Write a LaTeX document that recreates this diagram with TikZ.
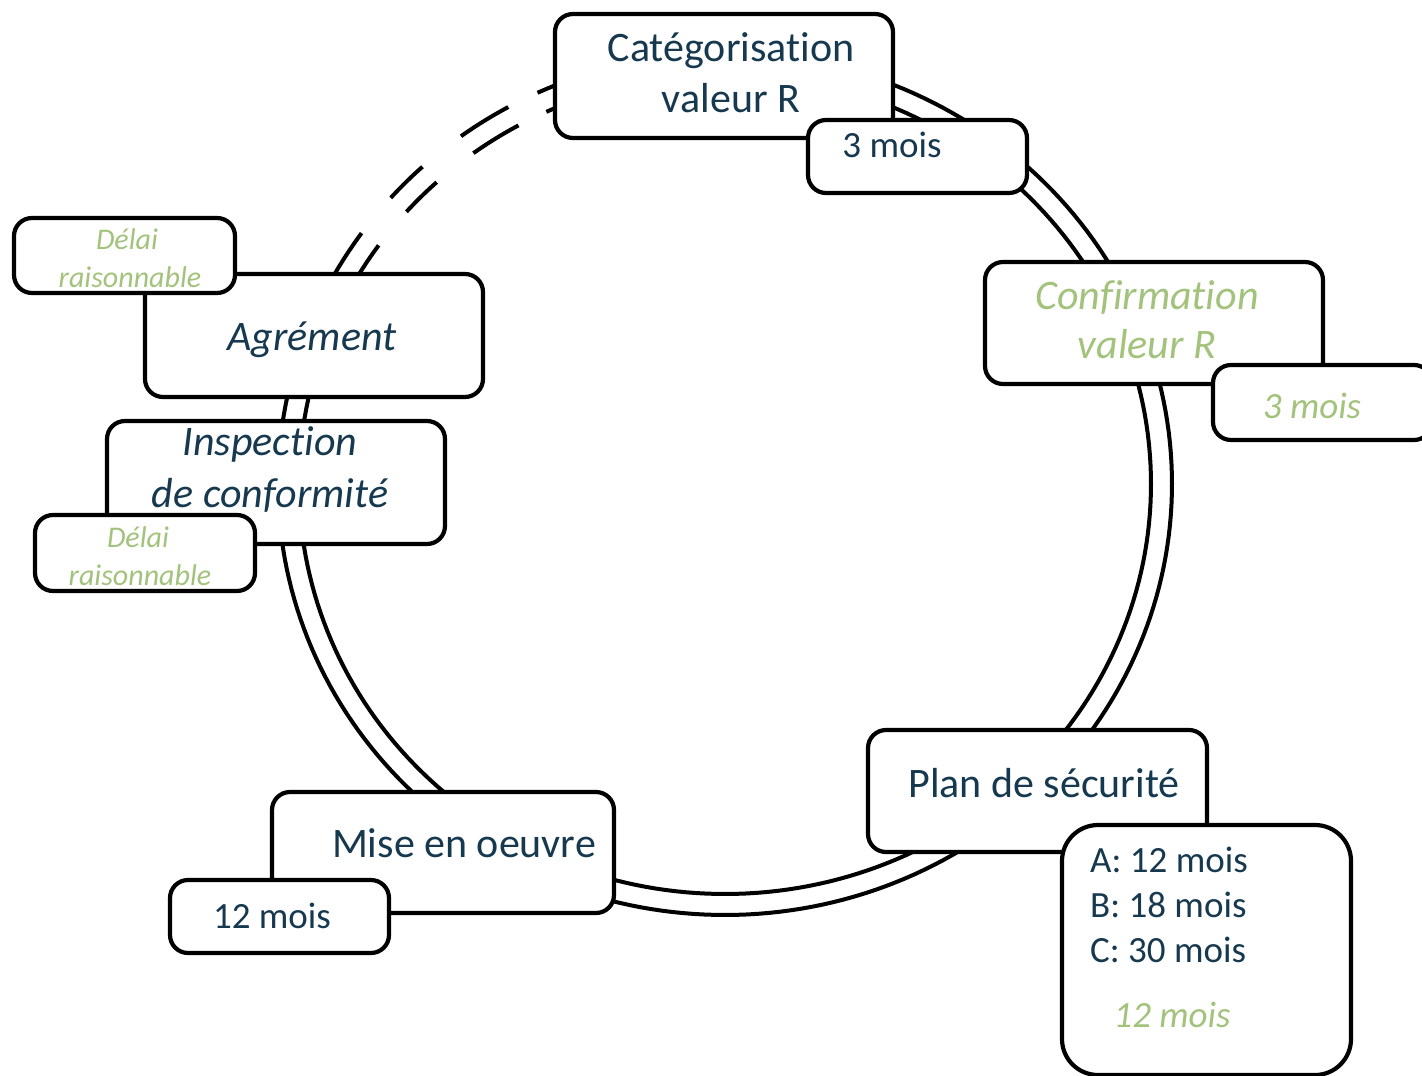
\documentclass[tikz,border=0pt]{standalone}
\usepackage{fontspec}
\setmainfont{Carlito}[RawFeature={-liga}]
\definecolor{navy}{HTML}{17394F}
\definecolor{leaf}{HTML}{A3C37D}
\begin{document}
\begin{tikzpicture}[x=1pt,y=-1pt,
  box/.style={draw=black, fill=white, line width=4.2pt, rounded corners=18pt, inner sep=0pt},
  ringline/.style={draw=black, line width=4pt, line join=round},
  big/.style={font=\fontsize{42}{50}\selectfont, text=navy, inner sep=0pt, anchor=base},
  mid/.style={font=\fontsize{37}{45}\selectfont, text=navy, inner sep=0pt, anchor=base},
  bigit/.style={font=\fontsize{42}{50}\selectfont\itshape, text=navy, inner sep=0pt, anchor=base},
  greenbig/.style={font=\fontsize{42}{50}\selectfont\itshape, text=leaf, inner sep=0pt, anchor=base},
  greenmid/.style={font=\fontsize{37}{45}\selectfont\itshape, text=leaf, inner sep=0pt, anchor=base},
  greensmall/.style={font=\fontsize{30}{36}\selectfont\itshape, text=leaf, inner sep=0pt, anchor=base}
]
\useasboundingbox (0,0) rectangle (1422,1076);
% ring: two lines (outer and inner), with a dashed stretch at upper left
\foreach \a/\b in {144.4/474.8, 132.6/138.4, 119/126.2}{
  \draw[ringline] plot[domain=\a:\b, samples=240] ({725+447*cos(\x)},{484-431*sin(\x)});
  \draw[ringline] plot[domain=\a:\b, samples=240] ({725+426*cos(\x)},{484-410*sin(\x)});
}

% Categorisation
\node[box, minimum width=338pt, minimum height=124pt] (cat) at (724,76) {};
\node[box, minimum width=219pt, minimum height=73pt] (catd) at (917.5,156.5) {};
\node[big] (catA) at (731,61) {Catégorisation};
\node[big] (catB) at (731,112) {valeur R};
\node[mid] (catdT) at (892,157) {3 mois};

% Confirmation
\node[box, minimum width=338pt, minimum height=122pt] (conf) at (1154,323) {};
\node[box, minimum width=219pt, minimum height=75pt] (confd) at (1322.5,402.5) {};
\node[greenbig] (confA) at (1147,309) {Confirmation};
\node[greenbig] (confB) at (1147,358) {valeur R};
\node[greenmid] (confdT) at (1312,418) {3 mois};

% Plan de securite
\node[box, minimum width=339pt, minimum height=122pt] (plan) at (1037.5,791) {};
\node[box, rounded corners=36pt, minimum width=289pt, minimum height=250pt] (pland) at (1206.5,950) {};
\node[big] (planT) at (1044,797) {Plan de sécurité};
\node[mid, anchor=base west] (planA) at (1090,872) {A: 12 mois};
\node[mid, anchor=base west] (planB) at (1090,917) {B: 18 mois};
\node[mid, anchor=base west] (planC) at (1090,962) {C: 30 mois};
\node[greenmid] (planG) at (1172,1027) {12 mois};

% Mise en oeuvre
\node[box, minimum width=342pt, minimum height=121pt] (mise) at (443,852.5) {};
\node[box, minimum width=219pt, minimum height=73pt] (mised) at (279.5,916.5) {};
\node[big] (miseT) at (464,857) {Mise en oeuvre};
\node[mid] (misedT) at (272,928) {12 mois};

% Inspection
\node[box, minimum width=338pt, minimum height=123pt] (insp) at (276,482.5) {};
\node[box, minimum width=220pt, minimum height=76pt] (inspd) at (145,553) {};
\node[bigit] (inspA) at (270,455) {Inspection};
\node[bigit] (inspB) at (270,507) {de conformité};
\node[greensmall] (inspdA) at (138,547) {Délai};
\node[greensmall] (inspdB) at (140,585) {raisonnable};

% Agrement
\node[box, minimum width=338pt, minimum height=123pt] (agr) at (314,335.5) {};
\node[box, minimum width=221pt, minimum height=75pt] (agrd) at (124.5,255.5) {};
\node[bigit] (agrT) at (312,350) {Agrément};
\node[greensmall] (agrdA) at (127,249) {Délai};
\node[greensmall] (agrdB) at (130,287) {raisonnable};
\end{tikzpicture}
\end{document}
